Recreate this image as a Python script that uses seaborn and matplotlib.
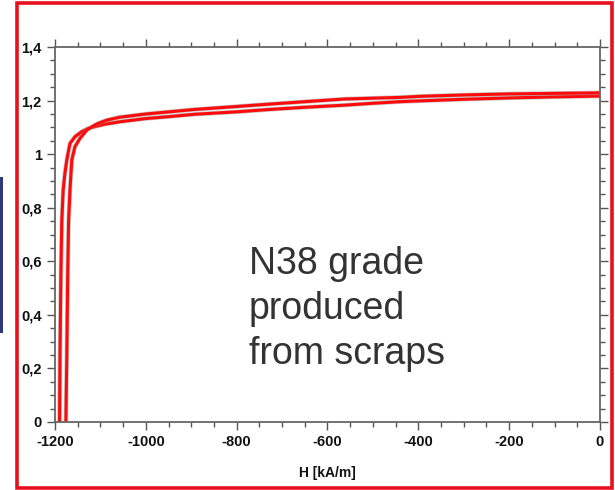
import numpy as np
import pandas as pd
import matplotlib
matplotlib.use("Agg")
import matplotlib.pyplot as plt
import seaborn as sns
from matplotlib.ticker import MultipleLocator, FuncFormatter
from matplotlib.patches import Rectangle

# demagnetisation curves (H in kA/m, B in T)
h_a = [-1190, -1189, -1187, -1185, -1182, -1178, -1174, -1167, -1156, -1141, -1127, -1110,
       -1090, -1057, -1000, -950, -892, -800, -727, -650, -562, -500, -440, -396, -300,
       -200, -100, 0]
b_a = [0.00, 0.24, 0.55, 0.75, 0.866, 0.93, 0.978, 1.04, 1.065, 1.084, 1.096, 1.104,
       1.112, 1.121, 1.133, 1.140, 1.149, 1.158, 1.167, 1.175, 1.183, 1.190, 1.196, 1.199,
       1.205, 1.210, 1.214, 1.217]

h_b = [-1176, -1174, -1172, -1170, -1167, -1163, -1156, -1145, -1130, -1115, -1105, -1086,
       -1068, -1057, -1000, -892, -800, -727, -650, -562, -440, -396, -300, -200, -100, 0]
b_b = [0.00, 0.24, 0.55, 0.75, 0.866, 0.978, 1.028, 1.059, 1.090, 1.106, 1.115, 1.127,
       1.134, 1.138, 1.150, 1.167, 1.178, 1.187, 1.196, 1.206, 1.212, 1.216, 1.221, 1.225,
       1.227, 1.229]

label_text = "N38 grade\nproduced\nfrom scraps"
x_title = "H [kA/m]"

sns.set_style("ticks")
plt.rcParams['font.family'] = ['Liberation Sans', 'DejaVu Sans']
plt.rcParams['axes.unicode_minus'] = False

df_a = pd.DataFrame({"H": h_a, "B": b_a})
df_b = pd.DataFrame({"H": h_b, "B": b_b})

fig = plt.figure(figsize=(6.15, 4.9), dpi=100)
ax = fig.add_axes([0.0894, 0.1388, 0.8862, 0.7652])

for d in (df_a, df_b):
    sns.lineplot(data=d, x="H", y="B", sort=False, ax=ax, color="#9a9a9a",
                 linewidth=3.2, alpha=0.55, estimator=None)
    sns.lineplot(data=d, x="H", y="B", sort=False, ax=ax, color="#ff0a0a",
                 linewidth=2.2, estimator=None)

ax.set_xlim(-1200, 0)
ax.set_ylim(0, 1.4)
ax.xaxis.set_major_locator(MultipleLocator(200))
ax.xaxis.set_minor_locator(MultipleLocator(50))
ax.yaxis.set_major_locator(MultipleLocator(0.2))
ax.yaxis.set_minor_locator(MultipleLocator(0.05))


def comma_fmt(v, pos):
    s = "%g" % round(v, 2)
    return s.replace(".", ",")


ax.yaxis.set_major_formatter(FuncFormatter(comma_fmt))
ax.xaxis.set_major_formatter(FuncFormatter(lambda v, p: "%d" % round(v)))

ax.tick_params(which="both", direction="out", top=True, right=True,
               colors="#555555", width=1.0, labelcolor="#111111")
ax.tick_params(which="major", length=6, labelsize=10.5)
ax.tick_params(which="minor", length=3.5)
for lab in ax.get_xticklabels() + ax.get_yticklabels():
    lab.set_fontweight("bold")
for sp in ax.spines.values():
    sp.set_visible(True)
    sp.set_color("#666666")
    sp.set_linewidth(1.3)

ax.set_xlabel(x_title, fontsize=10, fontweight="bold", color="#111111", labelpad=12)
ax.set_ylabel("")

fig.text(0.405, 0.497, label_text, fontsize=27, color="#333333",
         ha="left", va="top", linespacing=1.32)

# red frame around the chart and the cut-off blue bar on the left
fig.patches.append(Rectangle((0.0276, 0.005), 0.9675, 0.988, transform=fig.transFigure,
                             fill=False, edgecolor="#e8101e", linewidth=2.6))
fig.patches.append(Rectangle((0.0, 0.32), 0.005, 0.319, transform=fig.transFigure,
                             facecolor="#2e3a78", edgecolor="none"))

fig.savefig("out.png", dpi=100)
